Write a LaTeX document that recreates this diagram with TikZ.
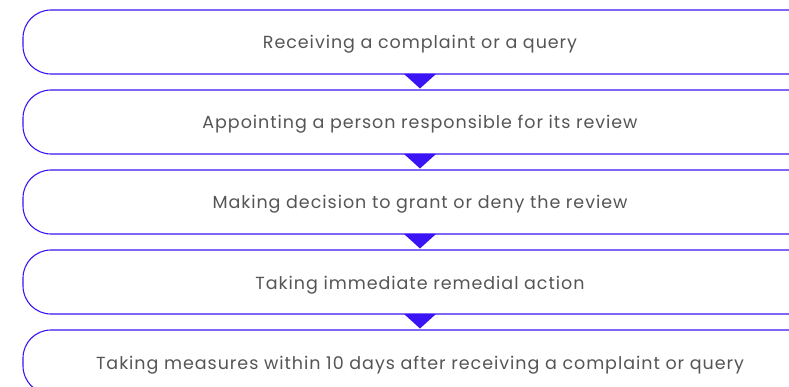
\documentclass[tikz,border=0pt]{standalone}
\usepackage{fontspec}
\setmainfont{Poppins}
\newfontfamily\lblfont[LetterSpace=5.5]{Poppins}
\definecolor{edge}{HTML}{3A14F5}
\definecolor{txt}{HTML}{555555}
\tikzset{
  stagebox/.style={draw=none, minimum width=768pt, minimum height=64pt, inner sep=0pt, outer sep=0pt},
  stageline/.style={draw=edge, line width=1.1pt, rounded corners=28pt},
  lbl/.style={text=txt, font=\lblfont\fontsize{17.5}{20}\selectfont, inner sep=0pt, anchor=base},
  tri/.style={fill=edge, draw=none}
}
\begin{document}
\begin{tikzpicture}[x=1pt,y=-1pt]
\useasboundingbox (0,0) rectangle (789,387);
\foreach \i/\t in {1/{Receiving a complaint or a query},
                   2/{Appointing a person responsible for its review},
                   3/{Making decision to grant or deny the review},
                   4/{Taking immediate remedial action},
                   5/{Taking measures within 10 days after receiving a complaint or query}}{
  \node[stagebox] (b\i) at (407,{42+80*(\i-1)}) {};
  \draw[stageline] (b\i.north east) -- (b\i.north west) -- (b\i.south west) -- (b\i.south east);
  \node[lbl] (t\i) at (420,{49+80*(\i-1)}) {\t};
}
\foreach \i/\j in {1/2,2/3,3/4,4/5}{
  \coordinate (a\i) at (b\i.south -| t\i);
  \fill[tri] ([xshift=-16pt]a\i) -- ([xshift=16pt]a\i) -- ([yshift=-14.5pt]a\i) -- cycle;
}
\end{tikzpicture}
\end{document}
